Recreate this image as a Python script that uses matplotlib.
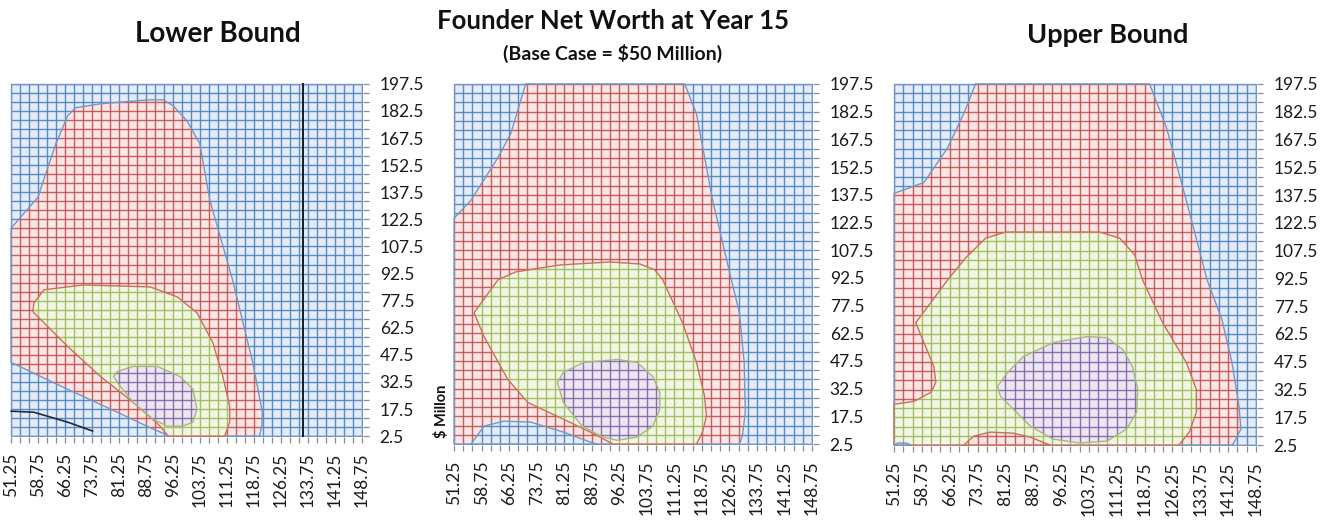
import matplotlib
matplotlib.use("Agg")
import matplotlib.pyplot as plt
import numpy as np
from matplotlib.patches import Polygon
from matplotlib.collections import LineCollection

plt.rcParams['font.family'] = ['Lato', 'DejaVu Sans']

# ---------------- data ----------------
x_tick_labels = ["51.25", "58.75", "66.25", "73.75", "81.25", "88.75", "96.25",
                 "103.75", "111.25", "118.75", "126.25", "133.75", "141.25", "148.75"]
y_tick_labels = ["2.5", "17.5", "32.5", "47.5", "62.5", "77.5", "92.5", "107.5",
                 "122.5", "137.5", "152.5", "167.5", "182.5", "197.5"]
x_step = 2.5   # category spacing of the surface grid
y_step = 5.0   # series spacing of the surface grid

# Lower Bound panel: band boundaries (x = category, y = $ million)
lower_red_x = [51.25, 51.25, 58.7, 63.7, 67.0, 69.2, 76.1, 89.9, 93.5, 96.3, 100.1, 103.7,
               106.5, 112.8, 118.4, 121.1, 120.9, 120.3, 95.4, 90.7, 80.8, 67.0]
lower_red_y = [43.3, 117.6, 134.7, 164.4, 179.9, 184.3, 186.5, 188.7, 188.7, 185.4, 177.1, 164.4,
               133.0, 89.0, 43.3, 15.7, 8.0, 2.5, 2.5, 6.4, 15.7, 28.4]
lower_green_x = [57.3, 57.6, 60.4, 71.4, 89.9, 97.4, 102.9, 107.3, 110.1, 112.0, 112.0, 110.6,
                 94.9, 92.7, 85.2, 76.1, 67.0, 60.9]
lower_green_y = [71.4, 76.3, 83.5, 86.2, 85.1, 79.6, 70.8, 54.3, 35.5, 19.0, 10.2, 2.5,
                 2.5, 8.0, 21.2, 35.5, 52.1, 64.2]
lower_purple_x = [79.7, 80.8, 85.2, 91.9, 98.2, 101.8, 102.9, 101.8, 99.0, 94.6, 90.7, 85.2, 81.6]
lower_purple_y = [35.5, 38.3, 41.1, 41.1, 35.5, 28.4, 17.4, 10.2, 8.0, 8.0, 11.9, 21.2, 30.0]
lower_curve_x = [51.25, 57.6, 67.0, 73.9]
lower_curve_y = [16.3, 15.7, 10.2, 5.3]
lower_marker_x = 132.5

# Base case panel
mid_red_x = [70.75, 114.1, 117.3, 121.7, 126.8, 129.0, 130.3, 130.6, 129.8, 129.0,
             51.25, 51.25, 55.85, 63.2, 66.7]
mid_red_y = [197.5, 197.5, 181.3, 134.5, 91.4, 73.6, 46.7, 19.7, 6.8, 2.5,
             2.5, 124.8, 134.5, 157.6, 170.6]
mid_blue_island_x = [55.85, 59.4, 64.8, 72.1, 81.0, 88.35, 90.25]
mid_blue_island_y = [2.5, 12.2, 14.9, 14.4, 9.0, 3.6, 2.5]
mid_green_x = [56.7, 63.2, 68.0, 80.2, 93.8, 101.9, 105.95, 108.1, 113.5, 117.3, 119.5, 120.0,
               118.95, 117.3, 94.6, 88.35, 81.0, 71.3, 65.9, 59.4]
mid_green_y = [73.6, 91.4, 95.7, 99.5, 101.1, 100.0, 96.8, 91.4, 68.2, 46.7, 28.4, 17.6,
               9.0, 2.5, 2.5, 9.0, 16.0, 25.1, 37.5, 60.7]
mid_purple_x = [79.4, 81.0, 86.5, 95.7, 101.1, 105.4, 107.3, 107.3, 105.4, 101.1, 95.7, 91.5, 86.0, 81.0]
mid_purple_y = [35.9, 41.3, 46.7, 48.3, 46.7, 39.1, 30.5, 21.4, 12.2, 6.3, 4.5, 6.5, 12.5, 25.1]

# Upper Bound panel
up_red_x = [51.25, 59.3, 65.7, 70.0, 73.2, 120.1, 124.65, 130.0, 135.6, 139.6, 142.3, 144.2,
            144.7, 142.9, 142.3, 51.25]
up_red_y = [138.4, 144.3, 163.1, 181.4, 197.5, 197.5, 173.9, 134.65, 91.7, 70.2, 47.1, 23.45,
            11.1, 4.1, 2.5, 2.5]
up_green_x = [51.25, 56.6, 61.2, 62.5, 61.96, 59.3, 57.1, 57.7, 65.7, 70.5, 75.9, 81.25, 106.7,
              112.05, 116.1, 118.2, 123.6, 130.0, 132.7, 132.7, 130.8, 128.0, 51.25]
up_green_y = [24.5, 26.1, 31.0, 36.3, 44.9, 57.8, 68.6, 70.2, 91.7, 103.5, 114.2, 117.5, 117.5,
              114.2, 105.1, 91.7, 68.6, 47.1, 32.6, 20.2, 9.5, 2.5, 2.5]
up_red_bump_x = [70.0, 72.7, 77.2, 83.4, 87.95, 93.3]
up_red_bump_y = [2.5, 7.3, 9.5, 8.9, 6.8, 2.5]
up_blue_corner_x = [51.25, 52.3, 54.5, 55.8]
up_blue_corner_y = [2.5, 3.6, 3.6, 2.5]
up_purple_x = [79.1, 81.8, 86.1, 94.1, 103.2, 108.6, 112.9, 115.5, 116.9, 116.6, 113.9, 108.6,
               101.3, 94.1, 87.95, 83.4, 79.9]
up_purple_y = [34.2, 41.7, 50.3, 57.8, 61.1, 60.5, 54.1, 44.9, 32.6, 20.2, 11.1, 4.65,
               3.6, 5.7, 12.7, 21.8, 28.8]

# ---------------- styles ----------------
BLUE, RED, GREEN, PURPLE = '#4F81BD', '#C0504D', '#9BBB59', '#8064A2'
TINT = {BLUE: '#e3ecf7', RED: '#f9e6e5', GREEN: '#f0f5e4', PURPLE: '#ece6f3'}
EDGE = {BLUE: '#7396cb', RED: '#c9705a', GREEN: '#a9b582', PURPLE: '#9a86b8'}

xf = [float(v) for v in x_tick_labels]
yf = [float(v) for v in y_tick_labels]
x_lo, x_hi = xf[0], xf[-1]
y_lo, y_hi = yf[0], yf[-1]
x_grid = np.arange(x_lo, x_hi + 1e-6, x_step)
y_grid = np.arange(y_lo, y_hi + 1e-6, y_step)

fig = plt.figure(figsize=(13.35, 5.25), dpi=100)
W, H = 1335.0, 525.0


def make_ax(l, r, t, b):
    return fig.add_axes([l / W, 1 - b / H, (r - l) / W, (b - t) / H])


def grid_segments():
    segs = [[(x, y_lo), (x, y_hi)] for x in x_grid]
    segs += [[(x_lo, y), (x_hi, y)] for y in y_grid]
    return segs


def band(ax, xs, ys, color, z, edge=None):
    poly = Polygon(np.column_stack([xs, ys]), closed=True, facecolor=TINT[color],
                   edgecolor='none', zorder=z, transform=ax.transData)
    ax.add_patch(poly)
    lc = LineCollection(grid_segments(), colors=color, linewidths=1.0, alpha=0.9,
                        zorder=z + 0.1)
    ax.add_collection(lc)
    lc.set_clip_path(poly)
    ec = EDGE[edge] if edge else EDGE[color]
    ax.add_patch(Polygon(np.column_stack([xs, ys]), closed=True, facecolor='none',
                         edgecolor=ec, linewidth=1.0, zorder=z + 0.2))


def setup(ax):
    ax.set_xlim(x_lo - 0.3, x_hi + 0.3)
    ax.set_ylim(y_lo - 0.5, y_hi + 0.5)
    for s in ax.spines.values():
        s.set_visible(False)
    ax.yaxis.tick_right()
    ax.set_xticks(xf)
    ax.set_xticklabels(x_tick_labels, rotation=90, fontsize=12.5, va='top')
    ax.set_xticks(x_grid, minor=True)
    ax.set_yticks(yf)
    ax.set_yticklabels(y_tick_labels, fontsize=12.5)
    ax.set_yticks(y_grid, minor=True)
    ax.tick_params(axis='both', which='both', color='#8c8c8c', length=4, width=0.9)
    ax.tick_params(axis='x', which='major', pad=7)
    ax.tick_params(axis='y', which='major', pad=8)
    ax.tick_params(axis='both', labelcolor='#1a1a1a')
    # base band (lowest level) covers the whole plot
    band(ax, [x_lo, x_hi, x_hi, x_lo], [y_lo, y_lo, y_hi, y_hi], BLUE, 1)


# Lower Bound
ax1 = make_ax(10, 363, 83, 437)
setup(ax1)
band(ax1, lower_red_x, lower_red_y, RED, 2, edge=BLUE)
band(ax1, lower_green_x, lower_green_y, GREEN, 3, edge=RED)
band(ax1, lower_purple_x, lower_purple_y, PURPLE, 4, edge=GREEN)
ax1.plot(lower_curve_x, lower_curve_y, color='#1f2a3a', lw=1.2, zorder=6)
ax1.axvline(lower_marker_x, color='#1a1a1a', lw=1.4, zorder=6)

# Base case
ax2 = make_ax(453, 813, 83, 445)
setup(ax2)
band(ax2, mid_red_x, mid_red_y, RED, 2, edge=BLUE)
band(ax2, mid_blue_island_x, mid_blue_island_y, BLUE, 2.5)
band(ax2, mid_green_x, mid_green_y, GREEN, 3, edge=RED)
band(ax2, mid_purple_x, mid_purple_y, PURPLE, 4, edge=GREEN)

# Upper Bound
ax3 = make_ax(893, 1257, 83, 446)
setup(ax3)
band(ax3, up_red_x, up_red_y, RED, 2, edge=BLUE)
band(ax3, up_green_x, up_green_y, GREEN, 3, edge=RED)
band(ax3, up_red_bump_x, up_red_bump_y, RED, 3.5)
band(ax3, up_blue_corner_x, up_blue_corner_y, BLUE, 3.6)
band(ax3, up_purple_x, up_purple_y, PURPLE, 4, edge=GREEN)

# Titles
fig.text(218 / W, 1 - 34 / H, "Lower Bound", ha='center', va='center',
         fontsize=20, fontweight='bold', color='#111111')
fig.text(613 / W, 1 - 21 / H, "Founder Net Worth at Year 15", ha='center', va='center',
         fontsize=18.5, fontweight='bold', color='#111111')
fig.text(613 / W, 1 - 53 / H, "(Base Case = $50 Million)", ha='center', va='center',
         fontsize=14, fontweight='bold', color='#111111')
fig.text(1108 / W, 1 - 35 / H, "Upper Bound", ha='center', va='center',
         fontsize=19.5, fontweight='bold', color='#111111')
fig.text(442 / W, 1 - 411 / H, "$ Millon", ha='center', va='center', rotation=90,
         fontsize=10.5, fontweight='bold', color='#111111')

fig.savefig("out.png", dpi=100, facecolor='white')
